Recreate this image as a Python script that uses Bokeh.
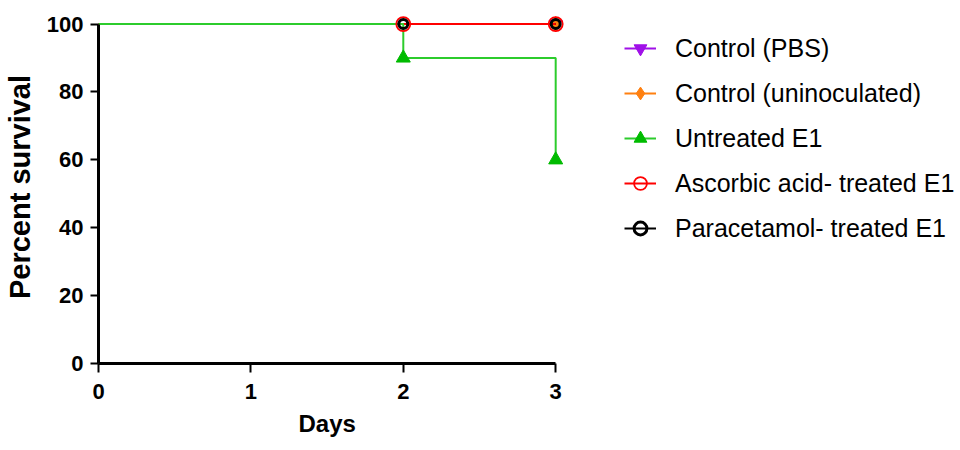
from bokeh.plotting import figure
from bokeh.models import (Range1d, FixedTicker, Legend, LegendItem, Title)
from bokeh.embed import file_html
from bokeh.resources import INLINE

# ---- data ----
days = [0, 2, 3]
pbs = [100, 100, 100]
uninoc = [100, 100, 100]
untreated = [100, 90, 60]
ascorbic = [100, 100, 100]
paracetamol = [100, 100, 100]

pbs_mark_days = [3]
pbs_mark = [100]
uninoc_mark_days = [3]
uninoc_mark = [100]
untreated_mark_days = [2, 3]
untreated_mark = [90, 60]
ascorbic_mark_days = [2, 3]
ascorbic_mark = [100, 100]
paracetamol_mark_days = [2, 3]
paracetamol_mark = [100, 100]

labels = ["Control (PBS)", "Control (uninoculated)", "Untreated E1",
          "Ascorbic acid- treated E1", "Paracetamol- treated E1"]
x_ticks = [0, 1, 2, 3]
y_ticks = [0, 20, 40, 60, 80, 100]

FONT = "Liberation Sans"

p = figure(width=960, height=450, output_backend="svg", toolbar_location=None,
           x_range=Range1d(0, 5.63), y_range=Range1d(0, 104),
           min_border_left=98, min_border_right=4, min_border_top=10,
           min_border_bottom=87)
p.outline_line_color = None
p.grid.visible = False
p.background_fill_color = "white"

# axes
for ax in (p.xaxis[0], p.yaxis[0]):
    ax.axis_line_width = 3
    ax.axis_line_color = "black"
    ax.major_tick_line_width = 2
    ax.major_tick_in = 0
    ax.minor_tick_line_color = None
    ax.major_label_text_font = FONT
    ax.major_label_text_font_style = "bold"
    ax.major_label_text_font_size = "22px"
    ax.major_label_text_color = "black"
    ax.major_label_standoff = 7
    ax.axis_label_text_font = FONT
    ax.axis_label_text_font_style = "bold"
    ax.axis_label_text_color = "black"

p.xaxis.ticker = FixedTicker(ticks=x_ticks)
p.xaxis.bounds = (0, 3)
p.xaxis.major_tick_out = 9
p.xaxis.major_label_standoff = 11

p.yaxis.ticker = FixedTicker(ticks=y_ticks)
p.yaxis.bounds = (0, 100)
p.yaxis.major_tick_out = 8
p.yaxis.axis_label = "Percent survival"
p.yaxis.axis_label_text_font_size = "29px"
p.yaxis.axis_label_standoff = 8

# x-axis title "Days", centred under the 0-3 day span
p.add_layout(Title(text="Days", align="left", offset=200, standoff=12,
                   text_font=FONT, text_font_style="bold",
                   text_font_size="24px", text_color="black"), "below")

PURPLE = "#a010e8"
ORANGE = "#ff8010"
GREEN_L = "#2ccc2c"
GREEN_M = "#00bb00"
RED = "#ff0000"
BLACK = "#000000"

# draw order: purple, orange, black, red, green
l_pbs = p.step(days, pbs, mode="after", line_color=PURPLE, line_width=2)
m_pbs = p.scatter(pbs_mark_days, pbs_mark, marker="inverted_triangle", size=13,
                  fill_color=PURPLE, line_color=PURPLE)
l_un = p.step(days, uninoc, mode="after", line_color=ORANGE, line_width=2)
m_un = p.scatter(uninoc_mark_days, uninoc_mark, marker="diamond", size=15,
                 fill_color=ORANGE, line_color=ORANGE)
l_par = p.step(days, paracetamol, mode="after", line_color=BLACK, line_width=2)
l_asc = p.step(days, ascorbic, mode="after", line_color=RED, line_width=2)
l_unt = p.step(days, untreated, mode="after", line_color=GREEN_L, line_width=2)
m_unt = p.scatter(untreated_mark_days, untreated_mark, marker="triangle", size=14,
                  fill_color=GREEN_M, line_color=GREEN_M)
m_asc = p.scatter(ascorbic_mark_days, ascorbic_mark, marker="circle", size=14,
                  fill_color=None, line_color=RED, line_width=1.8)
m_par = p.scatter(paracetamol_mark_days, paracetamol_mark, marker="circle", size=9,
                  fill_color=None, line_color=BLACK, line_width=3)

items = [
    LegendItem(label=labels[0], renderers=[l_pbs, m_pbs]),
    LegendItem(label=labels[1], renderers=[l_un, m_un]),
    LegendItem(label=labels[2], renderers=[l_unt, m_unt]),
    LegendItem(label=labels[3], renderers=[l_asc, m_asc]),
    LegendItem(label=labels[4], renderers=[l_par, m_par]),
]
legend = Legend(items=items, location=(526, 115), padding=0, margin=0,
                spacing=5, glyph_width=32, glyph_height=40, label_height=40,
                label_standoff=19, label_text_font=FONT,
                label_text_font_size="25px", label_text_color="black",
                border_line_color=None, background_fill_alpha=0)
p.add_layout(legend)

open("out.html", "w").write(file_html(p, INLINE))
